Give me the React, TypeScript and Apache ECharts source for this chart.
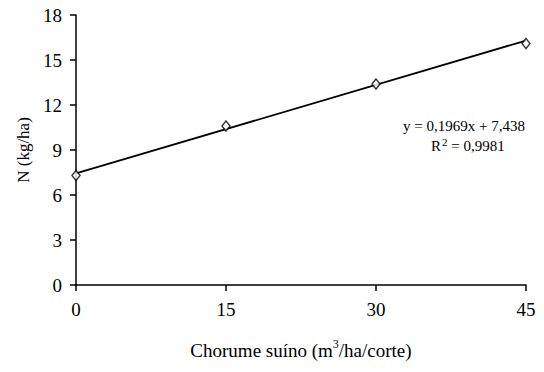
import React, { useEffect, useRef } from "react";
import * as echarts from "echarts";

const doses = [0, 15, 30, 45];
const nValues = [7.3, 10.6, 13.4, 16.1];
const slope = 0.1969;
const intercept = 7.438;
const yTicks = [0, 3, 6, 9, 12, 15, 18];
const equationText = "y = 0,1969x + 7,438";
const r2Label = "0,9981";

const FONT = "'Liberation Serif', 'Times New Roman', serif";

export default function App() {
  const ref = useRef<HTMLDivElement>(null);
  useEffect(() => {
    if (!ref.current) return;
    const chart = echarts.init(ref.current, null, { renderer: "svg" });
    const trend = [doses[0], doses[doses.length - 1]].map((x) => [x, intercept + slope * x]);
    chart.setOption({
      animation: false,
      backgroundColor: "#ffffff",
      textStyle: { fontFamily: FONT },
      grid: { left: 76, right: 18, top: 15, bottom: 87 },
      xAxis: {
        type: "value",
        min: 0,
        max: 45,
        interval: 15,
        name: "Chorume suíno (m{sup|3}/ha/corte)",
        nameLocation: "middle",
        nameGap: 53,
        nameTextStyle: {
          fontFamily: FONT,
          fontSize: 19,
          color: "#000",
          rich: {
            sup: { fontFamily: FONT, fontSize: 12, color: "#000", verticalAlign: "top", padding: [0, 0, 12, 0] },
          },
        },
        axisLine: { lineStyle: { color: "#000", width: 1.5 } },
        axisTick: { show: true, length: 6, lineStyle: { color: "#000", width: 1.5 } },
        axisLabel: { fontFamily: FONT, fontSize: 19, color: "#000", margin: 15 },
        splitLine: { show: false },
      },
      yAxis: {
        type: "value",
        min: yTicks[0],
        max: yTicks[yTicks.length - 1],
        interval: 3,
        name: "N (kg/ha)",
        nameLocation: "middle",
        nameGap: 44,
        nameRotate: 90,
        nameTextStyle: { fontFamily: FONT, fontSize: 17, color: "#000" },
        axisLine: { show: true, lineStyle: { color: "#000", width: 1.5 } },
        axisTick: { show: true, length: 6, lineStyle: { color: "#000", width: 1.5 } },
        axisLabel: { fontFamily: FONT, fontSize: 19, color: "#000", margin: 14 },
        splitLine: { show: false },
      },
      series: [
        {
          type: "line",
          data: trend,
          symbol: "none",
          lineStyle: { color: "#000", width: 1.8 },
          z: 2,
        },
        {
          type: "scatter",
          data: doses.map((d, i) => [d, nValues[i]]),
          symbol: "diamond",
          symbolSize: [8, 10],
          itemStyle: { color: "#fff", borderColor: "#000", borderWidth: 1.5 },
          z: 3,
        },
      ],
      graphic: [
        {
          type: "text",
          left: 403,
          top: 118,
          style: {
            text: equationText,
            font: "15px " + FONT,
            fill: "#000",
          },
        },
        {
          type: "text",
          left: 431,
          top: 136,
          style: {
            text: "R{sup|2} = " + r2Label,
            font: "15px " + FONT,
            fill: "#000",
            rich: {
              sup: { fontFamily: FONT, fontSize: 11, fill: "#000", verticalAlign: "top", padding: [0, 0, 8, 1] },
            },
          },
        },
      ],
    });
    return () => chart.dispose();
  }, []);
  return <div ref={ref} style={{ width: 544, height: 372, position: "absolute", left: 0, top: 0 }} />;
}
